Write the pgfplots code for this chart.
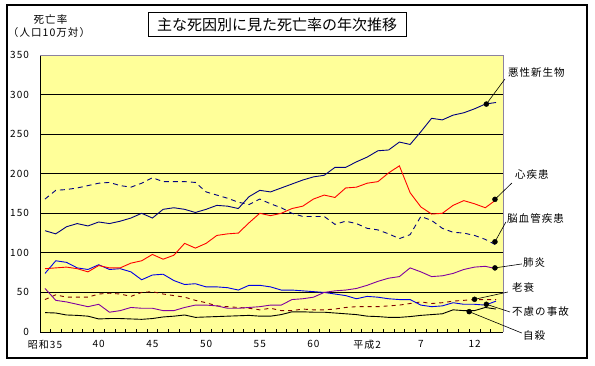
\documentclass[border=0pt]{standalone}
\usepackage{pgfplots}
\pgfplotsset{compat=1.18}
\usepackage{pgfplotstable}
\usepackage{fontspec}
\setmainfont{Noto Sans CJK JP}
\newfontfamily\jp{Noto Sans CJK JP}
\newfontfamily\jpsp{Noto Sans CJK JP}[LetterSpace=10]
\newcommand\ticks{\jpsp\fontsize{10bp}{12bp}\selectfont}
\newcommand\lab{\jpsp\fontsize{10.5bp}{12bp}\selectfont}
\newcommand\ttl{\jp\fontsize{15bp}{18bp}\selectfont}
\definecolor{bg}{RGB}{255,255,153}
\definecolor{cmn}{RGB}{0,0,128}
\definecolor{chd}{RGB}{255,0,0}
\definecolor{ccv}{RGB}{0,0,128}
\definecolor{cpn}{RGB}{128,0,160}
\definecolor{csn}{RGB}{128,0,0}
\definecolor{cac}{RGB}{0,0,230}
\definecolor{csu}{RGB}{0,0,0}
\definecolor{bordergray}{RGB}{140,130,160}

\pgfplotstableread{
i mn hd cv pn sn ac su
0 128 80 168 55 41 74 24.5
1 124 81 179 40 47 90 24
2 133 82 180 38 44 88 21.5
3 137 80 182 35 44 81 21
4 134 76 185 32 44 79 20
5 139 84 188 35 48 85 16.5
6 137 81 189 25 49 79 17
7 140 81 185 27 48 80 17
8 144 87 183 31 45 76 16.5
9 150 90 188 30 50 66 16
10 144 98 195 30 51 72 17
11 155 92 190 27 48 73 19
12 157 97 190 27 46 65 20
13 155 112 190 31 44 60 21.5
14 151 106 189 34 40 61 18.5
15 155 112 177 34 37 57 19
16 160 122 173 33 33 57 19.5
17 159 124 169 30 32 56 20
18 156 125 164 30 31 53 20.5
19 171 138 161 31 30 59 21
20 179 150 168 32 28 59 20
21 177 147 162 34 30 57 20
22 182 150 157 34 27 53 22
23 187 156 150 41 27 53 25.5
24 192 159 146 42 29 52 25.5
25 196 168 146 44 28 51 25
26 198 173 146 50 28 50 25
27 208 170 136 52 29 48 24
28 208 182 140 53 31 46 23
29 215 183 137 55 32 42 22
30 221 188 131 59 32 45 20
31 229 190 129 64 32 44 19.5
32 230 201 124 68 33 42 18.5
33 240 210 118 70 34 41 18.5
34 237 176 123 81 36 41 19.5
35 253 158 146 76 38 34 21
36 270 149 141 70 36 32 22
37 268 150 131 71 37 33 23
38 274 160 126 74 39 37 28
39 277 166 125 79 40 35 27
40 282 162 122 82 41 35 27
41 288 157 117 83 41 34 31
42 290 167 110 80 41 39 29
}\data

\begin{document}
\begin{tikzpicture}
\begin{axis}[
  at={(40.4bp,34bp)}, anchor=south west,
  scale only axis, width=462.6bp, height=277bp,
  xmin=-0.43, xmax=42.65, ymin=0, ymax=350,
  axis background/.style={fill=bg},
  axis x line*=bottom, axis y line*=left,
  axis line style={black, line width=1bp},
  xtick={0,5,...,40},
  xticklabels={昭和35,40,45,50,55,60,平成2,7,12},
  minor xtick={0.5,1.5,...,41.5},
  ytick={0,50,...,300},
  extra y ticks={350},
  extra y tick style={grid=none},
  ymajorgrids,
  major grid style={black, line width=0.9bp},
  major tick length=0pt, minor tick length=3bp,
  tick align=inside,
  minor tick style={black, line width=0.6bp},
  /pgf/number format/assume math mode=true,
  tick label style={font=\ticks},
  xticklabel style={yshift=-5bp},
  yticklabel style={xshift=-8bp},
  clip=false,
  no markers,
]
\addplot[csn, line width=0.9bp, dash pattern=on 4bp off 4bp] table[x=i,y=sn]{\data};
\addplot[csu, line width=0.9bp] table[x=i,y=su]{\data};
\addplot[cac, line width=0.9bp] table[x=i,y=ac]{\data};
\addplot[cpn, line width=0.9bp] table[x=i,y=pn]{\data};
\addplot[ccv, line width=0.9bp, dash pattern=on 5bp off 4bp] table[x=i,y=cv]{\data};
\addplot[chd, line width=0.9bp] table[x=i,y=hd]{\data};
\addplot[cmn, line width=0.9bp] table[x=i,y=mn]{\data};

\draw[bordergray, line width=0.8bp] (rel axis cs:0,1) -- (rel axis cs:1,1) -- (rel axis cs:1,0);

\addplot[only marks, mark=*, mark size=2.5bp, black] coordinates {
(41.1,288) (41.9,167.6) (41.9,114) (41.9,81) (40,41.3) (41.1,35) (39.5,25.7)};

\draw[black, line width=0.6bp] (axis cs:41.1,288) -- (axis cs:42.83,319.7);
\draw[black, line width=0.6bp] (axis cs:41.9,167.6) -- (axis cs:43.48,188.3);
\draw[black, line width=0.6bp] (axis cs:41.9,114) -- (axis cs:42.92,139);
\draw[black, line width=0.6bp] (axis cs:41.9,81) -- (axis cs:44.41,86);
\draw[black, line width=0.6bp] (axis cs:40,41.3) -- (axis cs:43.1,50.5);
\draw[black, line width=0.6bp] (axis cs:41.1,35) -- (axis cs:43.3,25.3);
\draw[black, line width=0.6bp] (axis cs:39.5,25.7) -- (axis cs:44.4,-1.3);

\node[anchor=west, font=\lab, inner sep=0] at (axis cs:43.1,327.3) {悪性新生物};
\node[anchor=west, font=\lab, inner sep=0] at (axis cs:43.76,198.4) {心疾患};
\node[anchor=west, font=\lab, inner sep=0] at (axis cs:43.02,144) {脳血管疾患};
\node[anchor=west, font=\lab, inner sep=0] at (axis cs:44.5,87.2) {肺炎};
\node[anchor=west, font=\lab, inner sep=0] at (axis cs:43.48,55.6) {老衰};
\node[anchor=west, font=\lab, inner sep=0] at (axis cs:43.48,25.3) {不慮の事故};
\node[anchor=west, font=\lab, inner sep=0] at (axis cs:44.5,-3.8) {自殺};
\end{axis}

\draw[line width=1.5bp] (7bp,8bp) rectangle (587bp,361bp);
\node[draw, line width=1bp, fill=white, minimum width=258bp, minimum height=24bp, inner sep=0, font=\ttl] at (277bp,341bp) {主な死因別に見た死亡率の年次推移};
\node[font=\lab, inner sep=0] at (50.5bp,346bp) {死亡率};
\node[font=\lab, inner sep=0] at (49bp,333bp) {（人口10万対）};

\pgfresetboundingbox
\path[use as bounding box] (0,0) rectangle (595bp,366bp);
\end{tikzpicture}
\end{document}
